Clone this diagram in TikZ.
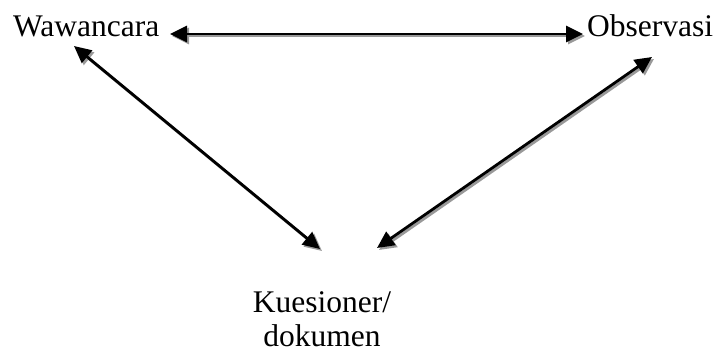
\documentclass[tikz,border=0pt]{standalone}
\usepackage{fontspec}
\setmainfont{Liberation Serif}
\usetikzlibrary{arrows.meta}
\begin{document}
\begin{tikzpicture}[x=1pt,y=1pt,
  lbl/.style={inner sep=0pt,font=\fontsize{31.5}{34}\selectfont},
  conn/.style={line width=2.8pt,{Triangle[length=17pt,width=16pt]}-{Triangle[length=17pt,width=16pt]}},
  shade/.style={conn,draw=black!40,transform canvas={shift={(2pt,-2pt)}}}]
\useasboundingbox (0,0) rectangle (717,353);
\node[lbl,anchor=base west] (W) at (13,316) {Wawancara};
\node[lbl,anchor=base west] (O) at (587,316) {Observasi};
\node[lbl,anchor=base,align=center] (K) at (322,6) {Kuesioner/\\dokumen};
\coordinate (h1) at (170,319);
\coordinate (h2) at (583,319);
\coordinate (l1) at (74,307);
\coordinate (l2) at (320,104);
\coordinate (r1) at (652,296);
\coordinate (r2) at (377,105);
\foreach \a/\b in {h1/h2,l1/l2,r1/r2}{
  \draw[shade] (\a) -- (\b);
  \draw[conn] (\a) -- (\b);
}
\end{tikzpicture}
\end{document}
